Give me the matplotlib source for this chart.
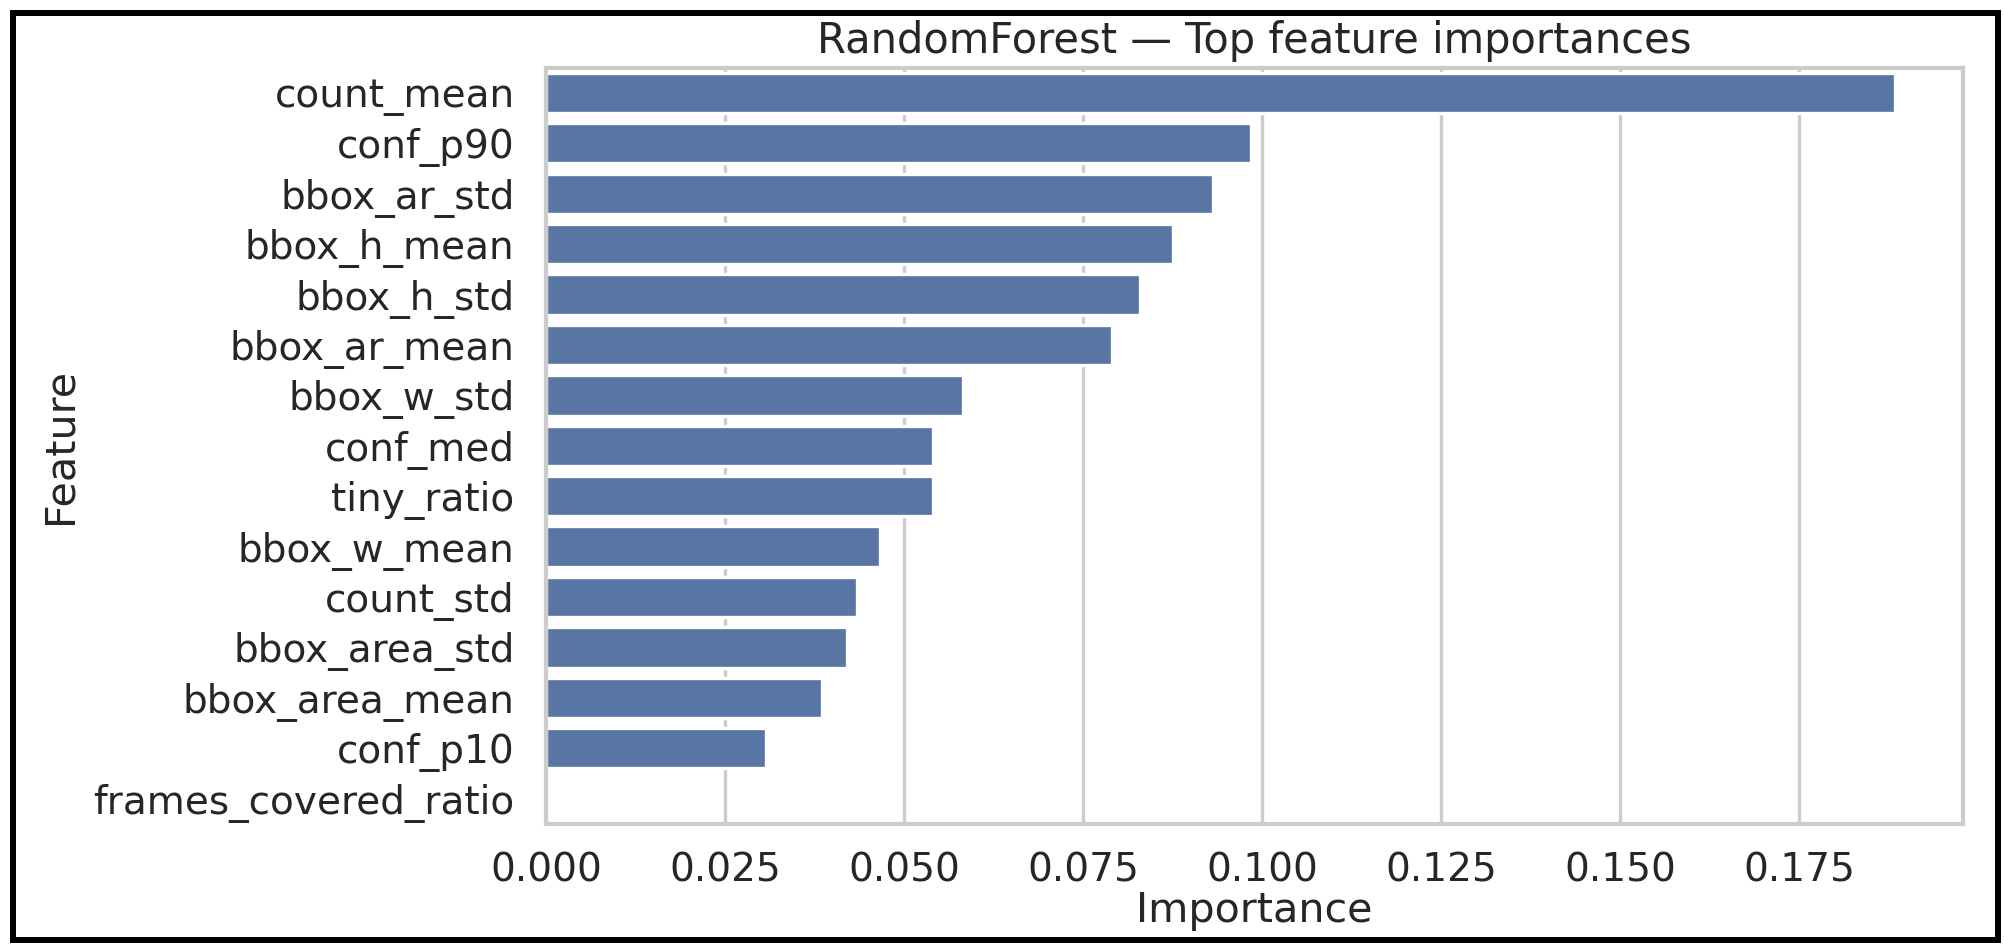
import matplotlib
matplotlib.use("Agg")
import matplotlib.pyplot as plt
from matplotlib.patches import Rectangle
import seaborn as sns
import pandas as pd

# Top feature importances (RandomForest)
features = [
    "count_mean", "conf_p90", "bbox_ar_std", "bbox_h_mean", "bbox_h_std",
    "bbox_ar_mean", "bbox_w_std", "conf_med", "tiny_ratio", "bbox_w_mean",
    "count_std", "bbox_area_std", "bbox_area_mean", "conf_p10",
    "frames_covered_ratio",
]
importances = [
    0.1884, 0.0984, 0.0931, 0.0875, 0.0829,
    0.0790, 0.0582, 0.0540, 0.0540, 0.0466,
    0.0434, 0.0420, 0.0385, 0.0307,
    0.0,
]

df = pd.DataFrame({"Feature": features, "Importance": importances})

sns.set_theme(style="whitegrid")

DPI = 240
fig = plt.figure(figsize=(2005 / DPI, 952 / DPI), dpi=DPI)
ax = fig.add_axes([0.2725, 0.1345, 0.7065, 0.7944])

sns.barplot(data=df, x="Importance", y="Feature", ax=ax)
ax.set_title("RandomForest \u2014 Top feature importances", fontsize=12.5, pad=4.5)
ax.set_xlabel("Importance", fontsize=12.4, labelpad=0.5)
ax.set_ylabel("Feature", fontsize=12.4)
ax.tick_params(axis="x", labelsize=11.7, length=0, pad=8.3)
ax.tick_params(axis="y", labelsize=11.7, length=0, pad=9.5)

# black frame around the whole picture
fig.patches.append(Rectangle((13 / 2005, 12 / 952), (1998.5 - 13) / 2005, (940 - 12.5) / 952,
                             transform=fig.transFigure, fill=False,
                             edgecolor="black", linewidth=1.8, zorder=10))

fig.savefig("out.png", dpi=DPI)
